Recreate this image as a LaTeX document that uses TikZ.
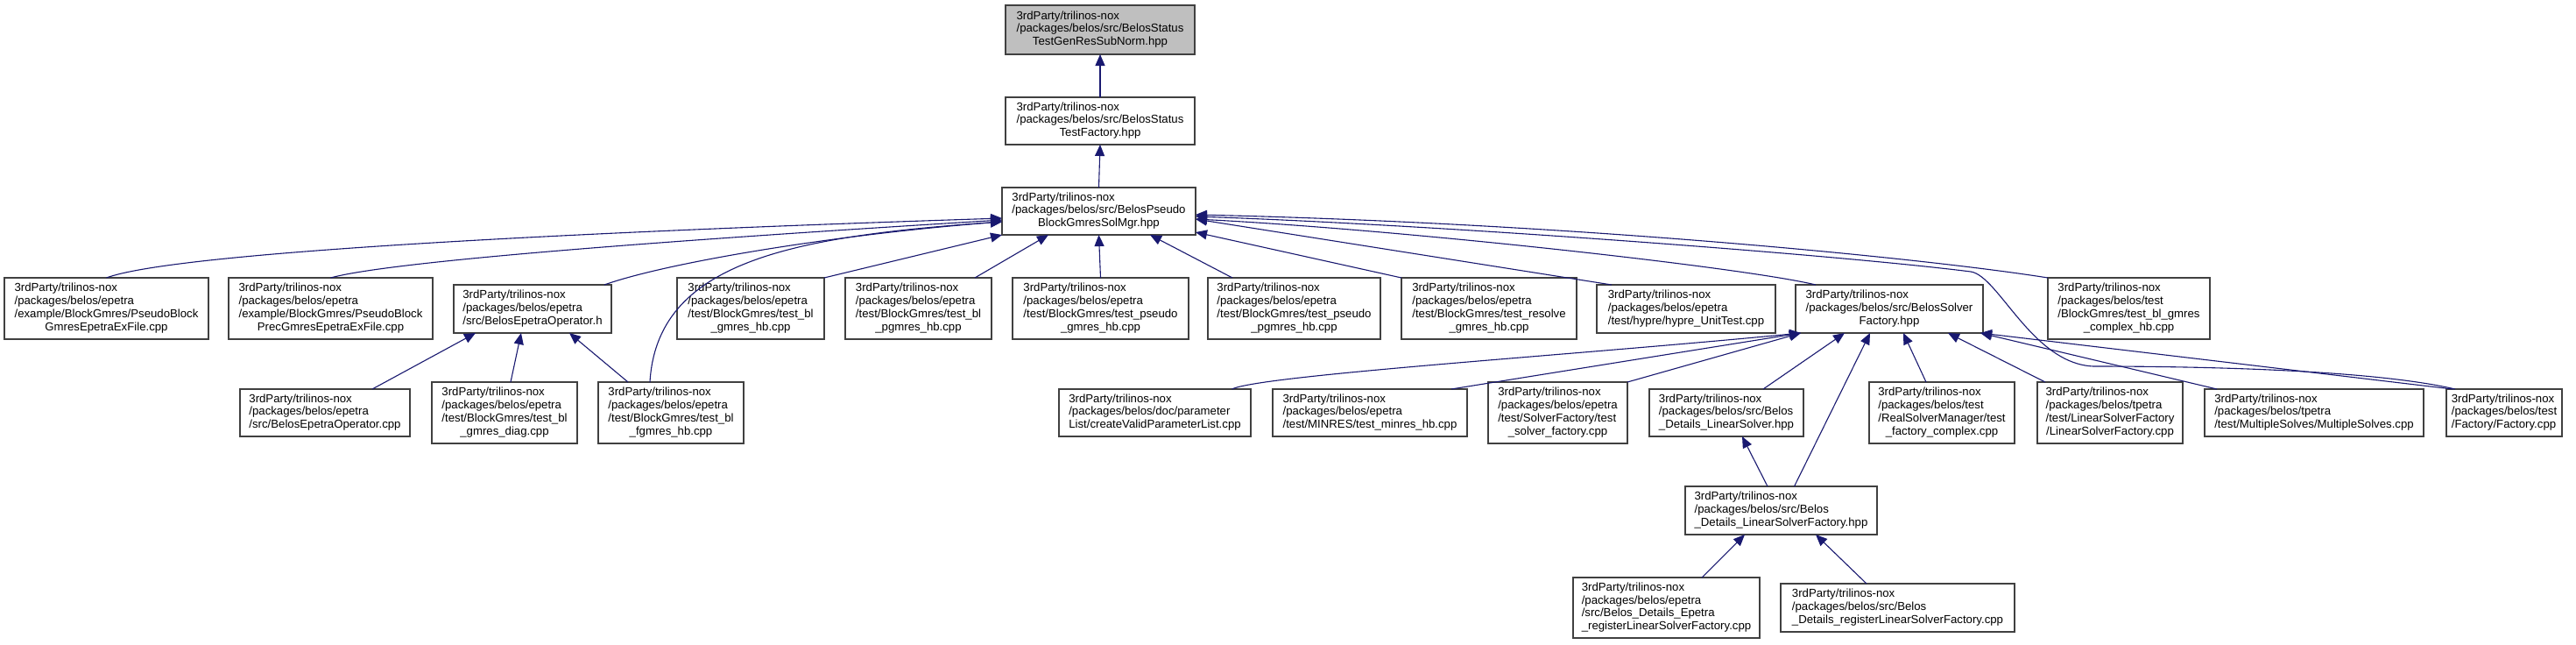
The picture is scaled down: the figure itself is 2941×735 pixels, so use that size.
\documentclass[tikz,border=0pt]{standalone}
\usepackage{fontspec}
\setmainfont{Liberation Sans}
\usetikzlibrary{arrows.meta}
\definecolor{edgeblue}{RGB}{25,25,112}
\definecolor{boxgray}{RGB}{64,64,64}
\definecolor{hlgray}{RGB}{191,191,191}
\newcommand\ct[1]{\multicolumn{1}{@{}c@{}}{#1}}
\newcommand\bx[7][white]{\node[nbox,fill=#1,minimum width={(#5-#3)*0.5pt},minimum height={(#6-#4)*0.5pt}] (#2) at ({(#3+#5)/2},{(#4+#6)/2}) {\begin{tabular}{@{}l@{}}#7\end{tabular}};}
\tikzset{
  nbox/.style={draw=boxgray,line width=0.75pt,inner sep=0pt,outer sep=0pt,rectangle,
    font=\fontsize{6.6}{7.4}\selectfont},
  dep/.style={draw=edgeblue,line width=0.55pt,-{Triangle[length=6.5pt,width=5.5pt]}}
}
\begin{document}
\begin{tikzpicture}[x=0.5pt,y=-0.5pt]
\fill[white] (0,0) rectangle (2941,735);
\useasboundingbox (0,0) rectangle (2941,735);
% level 0-2
\bx[hlgray]{top}{1148}{6}{1364}{62}{3rdParty/trilinos-nox\\/packages/belos/src/BelosStatus\\\ct{TestGenResSubNorm.hpp}}
\bx{n2}{1148}{111}{1364}{165}{3rdParty/trilinos-nox\\/packages/belos/src/BelosStatus\\\ct{TestFactory.hpp}}
\bx{n3}{1144}{214}{1365}{268}{3rdParty/trilinos-nox\\/packages/belos/src/BelosPseudo\\\ct{BlockGmresSolMgr.hpp}}
% row 2
\bx{A}{5}{317}{238}{387}{3rdParty/trilinos-nox\\/packages/belos/epetra\\/example/BlockGmres/PseudoBlock\\\ct{GmresEpetraExFile.cpp}}
\bx{B}{261}{317}{494}{387}{3rdParty/trilinos-nox\\/packages/belos/epetra\\/example/BlockGmres/PseudoBlock\\\ct{PrecGmresEpetraExFile.cpp}}
\bx{C}{518}{325}{698}{380}{3rdParty/trilinos-nox\\/packages/belos/epetra\\/src/BelosEpetraOperator.h}
\bx{D}{773}{317}{941}{387}{3rdParty/trilinos-nox\\/packages/belos/epetra\\/test/BlockGmres/test\_bl\\\ct{\_gmres\_hb.cpp}}
\bx{E}{965}{317}{1132}{387}{3rdParty/trilinos-nox\\/packages/belos/epetra\\/test/BlockGmres/test\_bl\\\ct{\_pgmres\_hb.cpp}}
\bx{F}{1156}{317}{1357}{387}{3rdParty/trilinos-nox\\/packages/belos/epetra\\/test/BlockGmres/test\_pseudo\\\ct{\_gmres\_hb.cpp}}
\bx{G}{1379}{317}{1576}{387}{3rdParty/trilinos-nox\\/packages/belos/epetra\\/test/BlockGmres/test\_pseudo\\\ct{\_pgmres\_hb.cpp}}
\bx{H}{1600}{317}{1800}{387}{3rdParty/trilinos-nox\\/packages/belos/epetra\\/test/BlockGmres/test\_resolve\\\ct{\_gmres\_hb.cpp}}
\bx{I}{1823}{325}{2027}{380}{3rdParty/trilinos-nox\\/packages/belos/epetra\\/test/hypre/hypre\_UnitTest.cpp}
\bx{J}{2050}{325}{2264}{380}{3rdParty/trilinos-nox\\/packages/belos/src/BelosSolver\\\ct{Factory.hpp}}
\bx{K}{2338}{317}{2523}{387}{3rdParty/trilinos-nox\\/packages/belos/test\\/BlockGmres/test\_bl\_gmres\\\ct{\_complex\_hb.cpp}}
% row 3
\bx{L}{274}{444}{468}{498}{3rdParty/trilinos-nox\\/packages/belos/epetra\\/src/BelosEpetraOperator.cpp}
\bx{M}{493}{436}{659}{506}{3rdParty/trilinos-nox\\/packages/belos/epetra\\/test/BlockGmres/test\_bl\\\ct{\_gmres\_diag.cpp}}
\bx{N}{683}{436}{849}{506}{3rdParty/trilinos-nox\\/packages/belos/epetra\\/test/BlockGmres/test\_bl\\\ct{\_fgmres\_hb.cpp}}
\bx{O}{1209}{444}{1428}{498}{3rdParty/trilinos-nox\\/packages/belos/doc/parameter\\List/createValidParameterList.cpp}
\bx{P}{1453}{444}{1675}{498}{3rdParty/trilinos-nox\\/packages/belos/epetra\\/test/MINRES/test\_minres\_hb.cpp}
\bx{Q}{1699}{436}{1858}{506}{3rdParty/trilinos-nox\\/packages/belos/epetra\\/test/SolverFactory/test\\\ct{\_solver\_factory.cpp}}
\bx{R}{1883}{444}{2059}{498}{3rdParty/trilinos-nox\\/packages/belos/src/Belos\\\ct{\_Details\_LinearSolver.hpp}}
\bx{S}{2134}{436}{2300}{506}{3rdParty/trilinos-nox\\/packages/belos/test\\/RealSolverManager/test\\\ct{\_factory\_complex.cpp}}
\bx{T}{2326}{436}{2492}{506}{3rdParty/trilinos-nox\\/packages/belos/tpetra\\/test/LinearSolverFactory\\\ct{/LinearSolverFactory.cpp}}
\bx{U}{2517}{444}{2767}{498}{3rdParty/trilinos-nox\\/packages/belos/tpetra\\/test/MultipleSolves/MultipleSolves.cpp}
\bx{V}{2793}{444}{2925}{498}{3rdParty/trilinos-nox\\/packages/belos/test\\/Factory/Factory.cpp}
% rows 4-5
\bx{W}{1924}{555}{2143}{610}{3rdParty/trilinos-nox\\/packages/belos/src/Belos\\\ct{\_Details\_LinearSolverFactory.hpp}}
\bx{X}{1796}{659}{2009}{728}{3rdParty/trilinos-nox\\/packages/belos/epetra\\/src/Belos\_Details\_Epetra\\\ct{\_registerLinearSolverFactory.cpp}}
\bx{Y}{2033}{666}{2300}{721}{3rdParty/trilinos-nox\\/packages/belos/src/Belos\\\ct{\_Details\_registerLinearSolverFactory.cpp}}
% edges
\draw[dep] (n2.north) -- (top.south);
\draw[dep] (n3.north) -- (n2.south);
\draw[dep] (A.north) .. controls (200,288) and (650,265) .. ([yshift=-4pt]n3.west);
\draw[dep] (B.north) .. controls (450,297) and (800,272) .. ([yshift=-5pt]n3.west);
\draw[dep] ([xshift=41pt]C.north) .. controls (760,300) and (950,268) .. ([yshift=-6pt]n3.west);
\draw[dep] ([xshift=-12pt]N.north) .. controls (750,300) and (900,270) .. ([yshift=-6pt]n3.west);
\draw[dep] (D.north east) -- (n3.south west);
\draw[dep] ([xshift=-9.5pt]E.north east) -- ([xshift=-28.75pt]n3.south);
\draw[dep] (F.north) -- (n3.south);
\draw[dep] ([xshift=14pt]G.north west) -- ([xshift=29.25pt]n3.south);
\draw[dep] (H.north west) -- ([yshift=1.5pt]n3.south east);
\draw[dep] ([xshift=8.5pt]I.north west) -- ([yshift=-4.5pt]n3.east);
\draw[dep] ([xshift=11.5pt]J.north west) .. controls (1990,305) and (1600,262) .. ([yshift=-4.5pt]n3.east);
\draw[dep] (K.north west) .. controls (2200,295) and (1800,255) .. ([yshift=-2pt]n3.east);
\draw[dep] ([xshift=5pt]V.north west) .. controls (2700,420) and (2480,418) .. (2390,418)
   .. controls (2320,415) and (2282,315) .. (2250,310)
   .. controls (2100,291) and (1650,257) .. ([yshift=-3pt]n3.east);
% EpetraOperator.h children
\draw[dep] ([xshift=27pt]L.north) -- ([xshift=-32.5pt]C.south);
\draw[dep] ([xshift=3.5pt]M.north) -- ([xshift=-6.5pt]C.south);
\draw[dep] ([xshift=-24.5pt]N.north) -- ([xshift=21pt]C.south);
% SolverFactory children
\draw[dep] ([xshift=44pt]O.north) .. controls (1440,428) and (1800,405) .. ([xshift=3pt]J.south west);
\draw[dep] ([xshift=46.5pt]P.north) -- ([xshift=3pt]J.south west);
\draw[dep] (Q.north east) -- ([xshift=3pt]J.south west);
\draw[dep] ([xshift=21pt]R.north) -- ([xshift=-25.5pt]J.south);
\draw[dep] ([xshift=7.5pt]W.north) -- ([xshift=-11pt]J.south);
\draw[dep] ([xshift=-9pt]S.north) -- ([xshift=8pt]J.south);
\draw[dep] ([xshift=4.5pt]T.north west) -- ([xshift=33.5pt]J.south);
\draw[dep] ([xshift=7pt]U.north west) -- ([xshift=-1.5pt]J.south east);
\draw[dep] ([xshift=3.5pt]V.north west) -- ([xshift=-1.5pt]J.south east);
% LinearSolver / factory
\draw[dep] ([xshift=-7.75pt]W.north) -- ([xshift=9pt]R.south);
\draw[dep] ([xshift=20.25pt]X.north) -- ([xshift=-20.75pt]W.south);
\draw[dep] ([xshift=-17.75pt]Y.north) -- ([xshift=19.75pt]W.south);
\end{tikzpicture}
\end{document}
